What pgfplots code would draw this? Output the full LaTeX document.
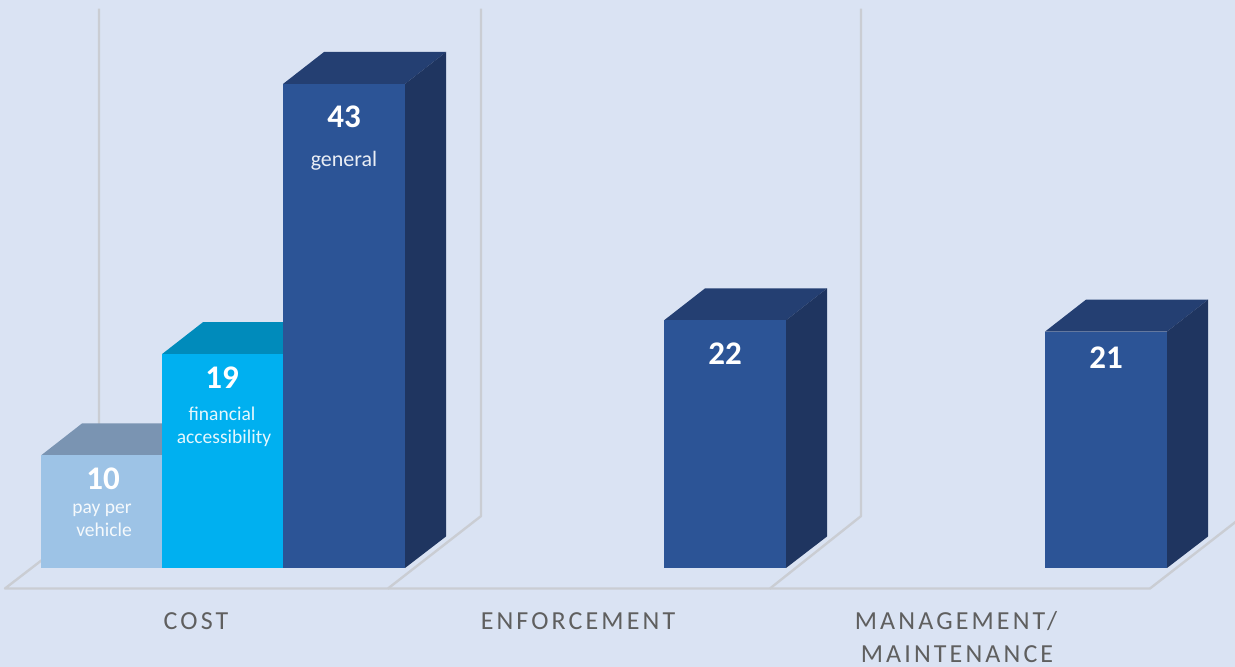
\documentclass[border=0pt]{standalone}
\usepackage{pgfplots}
\pgfplotsset{compat=1.18}
\usepackage{fontspec}
\setmainfont{Carlito}
\definecolor{bg}{HTML}{DAE3F3}
\definecolor{gridc}{HTML}{CACDD3}
\definecolor{lfront}{HTML}{9DC3E6}
\definecolor{ltop}{HTML}{7A94B2}
\definecolor{cfront}{HTML}{00B0F0}
\definecolor{ctop}{HTML}{008BBB}
\definecolor{dfront}{HTML}{2C5496}
\definecolor{dtop}{HTML}{243F72}
\definecolor{dside}{HTML}{1F3560}
\definecolor{lab}{HTML}{5F5F5F}
\newcommand{\valtxt}[1]{{\fontsize{33}{33}\selectfont\bfseries #1}}
\newcommand{\subtxt}[1]{{\fontsize{19.5}{20}\selectfont #1}}
\newcommand{\gentxt}[1]{{\fontsize{22}{22}\selectfont #1}}
\newcommand{\cat}[1]{{\fontsize{26}{26}\selectfont\addfontfeatures{LetterSpace=12}\color{lab}#1}}
\begin{document}
\begin{tikzpicture}
\begin{axis}[
  width=1235pt, height=667pt, scale only axis, hide axis,
  xmin=0, xmax=1235, ymin=-8.795, ymax=50.46,
  every node/.style={inner sep=0pt, outer sep=0pt},
]
% background
\fill[bg] (rel axis cs:0,0) rectangle (rel axis cs:1,1);
% walls and floor
\addplot[gridc, line width=2.4pt, line join=round] coordinates {(99,49.69)(99,4.61)(5,-1.82)(388,-1.82)(481,4.61)(481,49.69)};
\addplot[gridc, line width=2.4pt, line join=round] coordinates {(388,-1.82)(770,-1.82)(861,4.61)(861,49.69)};
\addplot[gridc, line width=2.4pt, line join=round] coordinates {(770,-1.82)(1150,-1.82)(1243,4.61)};
% COST: pay per vehicle (10)
\addplot[fill=ltop, draw=none] coordinates {(41,10)(82,12.84)(203,12.84)(162,10)} --cycle;
\addplot[ybar, bar shift=0pt, bar width=121pt, fill=lfront, draw=none] coordinates {(101.5,10)};
% COST: financial accessibility (19)
\addplot[fill=ctop, draw=none] coordinates {(162,19)(203,21.84)(324,21.84)(283,19)} --cycle;
\addplot[ybar, bar shift=0pt, bar width=121pt, fill=cfront, draw=none] coordinates {(222.5,19)};
% COST: general (43)
\addplot[fill=dtop, draw=none] coordinates {(283,43)(324,45.84)(446,45.84)(405,43)} --cycle;
\addplot[fill=dside, draw=none] coordinates {(405,0)(405,43)(446,45.84)(446,2.8)} --cycle;
\addplot[ybar, bar shift=0pt, bar width=122pt, fill=dfront, draw=none] coordinates {(344,43)};
% ENFORCEMENT (22)
\addplot[fill=dtop, draw=none] coordinates {(664,22)(705,24.84)(827,24.84)(786,22)} --cycle;
\addplot[fill=dside, draw=none] coordinates {(786,0)(786,22)(827,24.84)(827,2.8)} --cycle;
\addplot[ybar, bar shift=0pt, bar width=122pt, fill=dfront, draw=none] coordinates {(725,22)};
% MANAGEMENT/MAINTENANCE (21)
\addplot[fill=dtop, draw=none] coordinates {(1045,21)(1086,23.84)(1208,23.84)(1167,21)} --cycle;
\addplot[fill=dside, draw=none] coordinates {(1167,0)(1167,21)(1208,23.84)(1208,2.8)} --cycle;
\addplot[ybar, bar shift=0pt, bar width=122pt, fill=dfront, draw=none] coordinates {(1106,21)};
% labels
\node[anchor=base, white] at (axis cs:103,7.01) {\valtxt{10}};
\node[anchor=base, white!90!lfront] at (axis cs:102,4.88) {\subtxt{pay per}};
\node[anchor=base, white!90!lfront] at (axis cs:104,2.84) {\subtxt{vehicle}};
\node[anchor=base, white] at (axis cs:222,15.97) {\valtxt{19}};
\node[anchor=base, white!90!cfront] at (axis cs:222,13.13) {\subtxt{financial}};
\node[anchor=base, white!90!cfront] at (axis cs:224,11.09) {\subtxt{accessibility}};
\node[anchor=base, white] at (axis cs:344,39.13) {\valtxt{43}};
\node[anchor=base, white!90!dfront] at (axis cs:344,35.67) {\gentxt{general}};
\node[anchor=base, white] at (axis cs:725,18.10) {\valtxt{22}};
\node[anchor=base, white] at (axis cs:1106,17.75) {\valtxt{21}};
\node[anchor=base] at (axis cs:196,-5.50) {\cat{COST}};
\node[anchor=base] at (axis cs:578,-5.50) {\cat{ENFORCEMENT}};
\node[anchor=base] at (axis cs:956,-5.50) {\cat{MANAGEMENT/}};
\node[anchor=base] at (axis cs:957,-8.43) {\cat{MAINTENANCE}};
\end{axis}
\end{tikzpicture}
\end{document}
